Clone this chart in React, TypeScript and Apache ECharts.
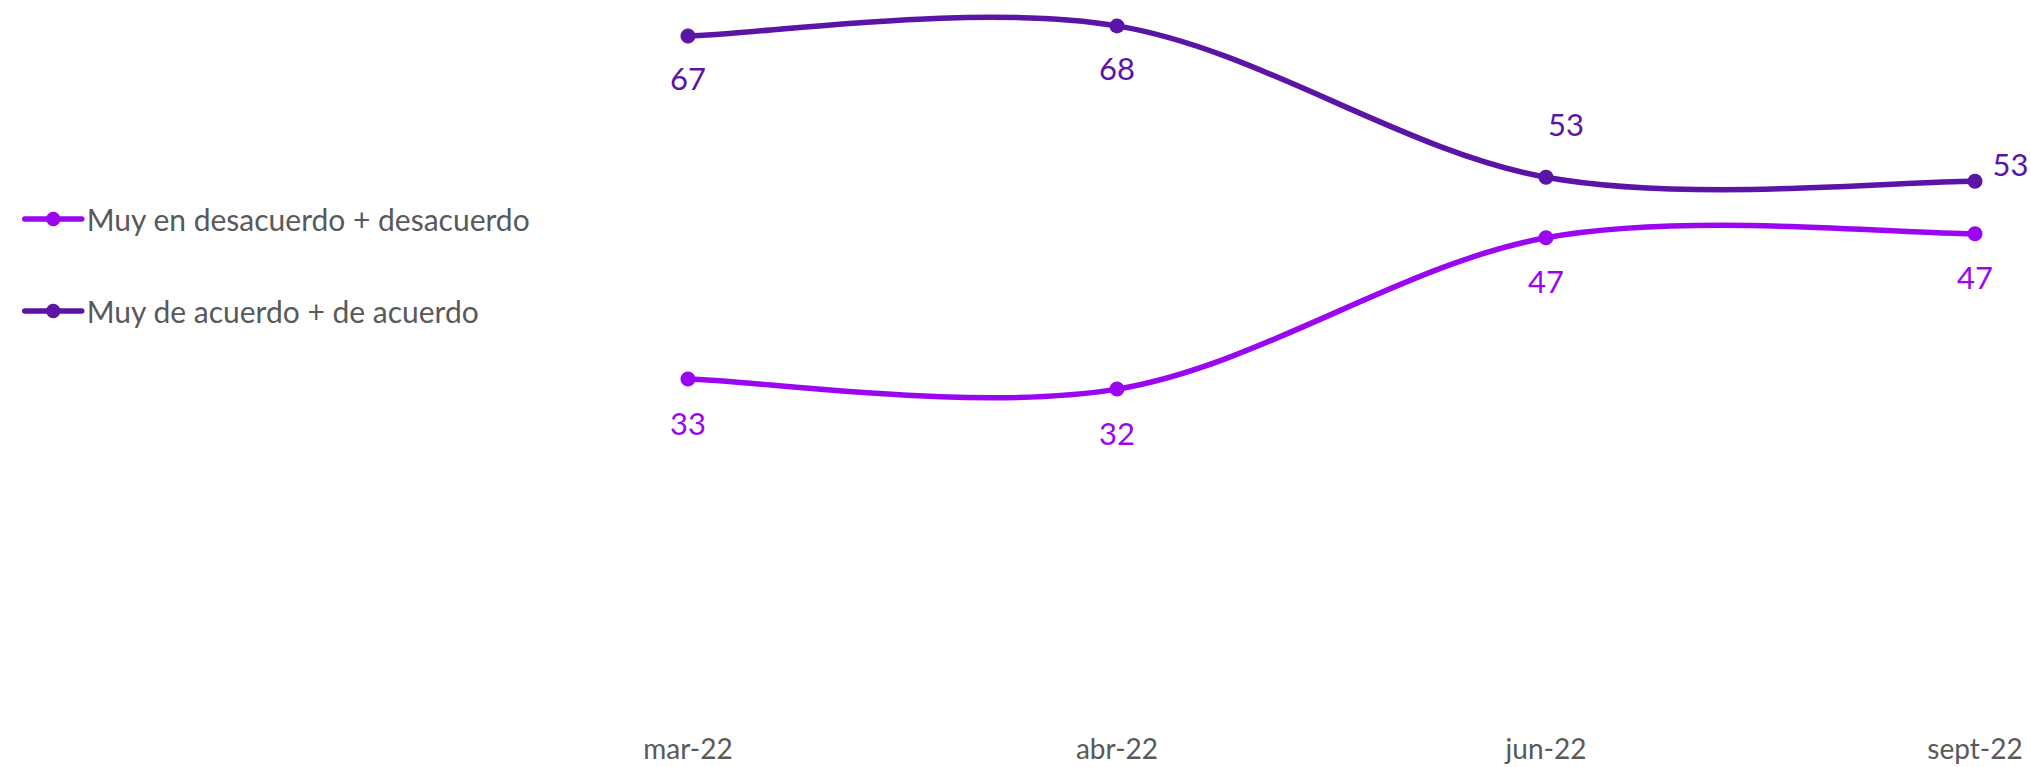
import React, { useEffect, useRef } from "react";
import * as echarts from "echarts";

const categories = ["mar-22", "abr-22", "jun-22", "sept-22"];
const seriesNames = ["Muy en desacuerdo + desacuerdo", "Muy de acuerdo + de acuerdo"];
const desacuerdo = [33, 32, 47, 47.4];
const acuerdo = [67, 68, 53, 52.6];
const colors = ["#9B06F0", "#5A14A6"];

const FONT = "Lato";
const LINE_W = 5.5;

// Excel-style (Catmull-Rom) smoothed curve drawn through the axis scales
function curveRenderer(color: string) {
  return (params: any, api: any) => {
    const i = params.dataIndexInside;
    const n = params.dataInsideLength;
    if (i >= n - 1) return null;
    const pt = (k: number) => {
      const kk = Math.max(0, Math.min(n - 1, k));
      return api.coord([api.value(0, kk), api.value(1, kk)]);
    };
    const p0 = pt(i - 1);
    const p1 = pt(i);
    const p2 = pt(i + 1);
    const p3 = pt(i + 2);
    return {
      type: "bezierCurve",
      shape: {
        x1: p1[0],
        y1: p1[1],
        x2: p2[0],
        y2: p2[1],
        cpx1: p1[0] + (p2[0] - p0[0]) / 6,
        cpy1: p1[1] + (p2[1] - p0[1]) / 6,
        cpx2: p2[0] - (p3[0] - p1[0]) / 6,
        cpy2: p2[1] - (p3[1] - p1[1]) / 6,
      },
      style: { stroke: color, lineWidth: LINE_W, fill: null, lineCap: "round" },
    };
  };
}

export default function App() {
  const ref = useRef<HTMLDivElement>(null);
  useEffect(() => {
    if (!ref.current) return;
    const chart = echarts.init(ref.current, undefined, { renderer: "svg" });
    const labelBase = {
      show: true,
      fontFamily: FONT,
      fontSize: 31,
      lineHeight: 32,
      formatter: (p: any) => String(Math.round(p.value)),
    };
    const acuerdoLabels = [
      { position: "bottom", distance: 19 },
      { position: "bottom", distance: 19 },
      { position: "top", distance: 30, offset: [20, 0] },
      { position: "right", distance: 10, offset: [0, -17] },
    ];
    const option = {
      animation: false,
      backgroundColor: "#ffffff",
      textStyle: { fontFamily: FONT },
      legend: {
        orient: "vertical",
        left: 17,
        top: 197,
        itemWidth: 57,
        itemHeight: 18,
        itemGap: 58,
        lineStyle: { width: LINE_W, opacity: 1, cap: "round" },
        textStyle: { fontFamily: FONT, fontSize: 30, lineHeight: 34, color: "#595959" },
        data: seriesNames,
      },
      grid: { left: 688, right: 56, top: 5.7, bottom: 55 },
      xAxis: {
        type: "category",
        boundaryGap: false,
        data: categories,
        axisLine: { show: false },
        axisTick: { show: false },
        axisLabel: {
          fontFamily: FONT,
          fontSize: 28,
          lineHeight: 28,
          color: "#595959",
          margin: 22,
        },
        splitLine: { show: false },
      },
      yAxis: {
        type: "value",
        min: 0,
        max: 70,
        show: false,
        splitLine: { show: false },
      },
      series: [
        {
          name: "curve-desacuerdo",
          type: "custom",
          z: 1,
          silent: true,
          encode: { x: 0, y: 1 },
          renderItem: curveRenderer(colors[0]),
          data: desacuerdo.map((v, i) => [i, v]),
        },
        {
          name: "curve-acuerdo",
          type: "custom",
          z: 1,
          silent: true,
          encode: { x: 0, y: 1 },
          renderItem: curveRenderer(colors[1]),
          data: acuerdo.map((v, i) => [i, v]),
        },
        {
          name: seriesNames[0],
          type: "line",
          z: 3,
          symbol: "circle",
          symbolSize: 15,
          lineStyle: { width: LINE_W, color: colors[0], opacity: 0 },
          itemStyle: { color: colors[0] },
          label: { ...labelBase, color: colors[0], position: "bottom", distance: 20 },
          data: desacuerdo,
        },
        {
          name: seriesNames[1],
          type: "line",
          z: 3,
          symbol: "circle",
          symbolSize: 15,
          lineStyle: { width: LINE_W, color: colors[1], opacity: 0 },
          itemStyle: { color: colors[1] },
          label: { ...labelBase, color: colors[1] },
          data: acuerdo.map((v, i) => ({ value: v, label: acuerdoLabels[i] })),
        },
      ],
    };
    chart.setOption(option as any);
    return () => chart.dispose();
  }, []);
  return (
    <div
      ref={ref}
      style={{ position: "absolute", left: 0, top: 0, width: 2031, height: 767 }}
    />
  );
}
